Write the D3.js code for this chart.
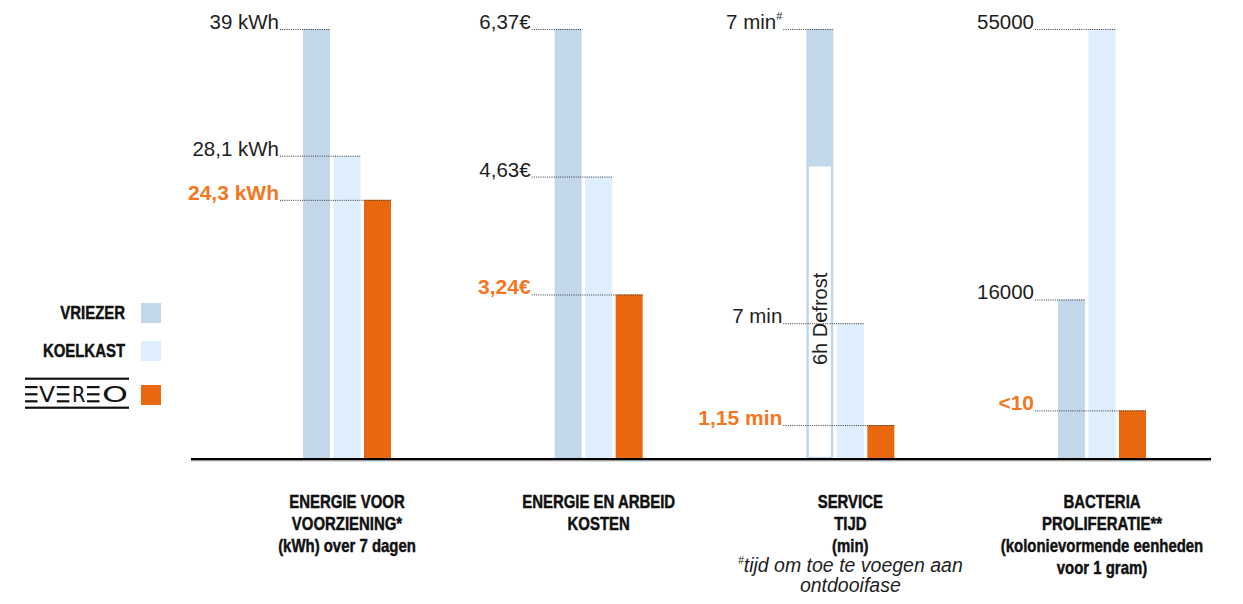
<!DOCTYPE html>
<html>
<head>
<meta charset="utf-8">
<script src="https://cdn.jsdelivr.net/npm/d3@7"></script>
<style>
  body { margin: 0; background: #fff; }
  svg { display: block; }
</style>
</head>
<body>
<svg id="chart" width="1243" height="604"></svg>
<script>
// ---- data ---------------------------------------------------------------
const groups = ["energie", "kosten", "service", "bacteria"];
const seriesNames = ["VRIEZER", "KOELKAST", "EVEREO"];

const vriezerValues  = [39,   6.37, 7,    16000];
const koelkastValues = [28.1, 4.63, 7,    55000];
const evereoValues   = [24.3, 3.24, 1.15, 10];

const vriezerLabels  = ["39 kWh",   "6,37€", "7 min",    "16000"];
const koelkastLabels = ["28,1 kWh", "4,63€", "7 min",    "55000"];
const evereoLabels   = ["24,3 kWh", "3,24€", "1,15 min", "<10"];

// each comparison has its own value axis
const axisMin = [2,  1.3,  -0.8, -7000];
const axisMax = [39, 6.37, 23.9, 55000];

const categoryLines = [
  ["ENERGIE VOOR", "VOORZIENING*", "(kWh) over 7 dagen"],
  ["ENERGIE EN ARBEID", "KOSTEN"],
  ["SERVICE", "TIJD", "(min)"],
  ["BACTERIA", "PROLIFERATIE**", "(kolonievormende eenheden", "voor 1 gram)"]
];
const footnoteLines = ["tijd om toe te voegen aan", "ontdooifase"];
const defrostGroup = "service";
const defrostText = "6h Defrost";

// ---- styling ------------------------------------------------------------
const barColors = ["#c3d7ea", "#dfeefc", "#e9680f"];
const accentText = "#f4761f";
const regular = "'Liberation Sans', Arial, sans-serif";
const narrowScale = 0.83;   // horizontal squeeze for the condensed captions

const baseY = 459, topY = 29;
const seriesValues = [vriezerValues, koelkastValues, evereoValues];
const seriesLabels = [vriezerLabels, koelkastLabels, evereoLabels];

const svg = d3.select("#chart");

const xCenter = d3.scalePoint().domain(groups).range([347, 1102]);
const xInner = d3.scaleBand().domain(seriesNames).range([-44, 44]).paddingInner(0.115);
const yScales = groups.map((g, i) =>
  d3.scaleLinear().domain([axisMin[i], axisMax[i]]).range([baseY, topY]));

// condensed bold caption text
function narrowText(parent, x, anchor) {
  return parent.append("g")
    .attr("transform", `translate(${x},0) scale(${narrowScale},1)`)
    .append("text")
    .attr("text-anchor", anchor)
    .attr("font-family", regular).attr("font-weight", "bold")
    .attr("font-size", 18).attr("fill", "#111")
    .attr("stroke", "#111").attr("stroke-width", 0.45);
}

// one record per bar
const bars = [];
groups.forEach((g, i) => {
  seriesNames.forEach((s, j) => {
    const y = yScales[i];
    const value = seriesValues[j][i];
    const x = xCenter(g) + xInner(s);
    const rec = { g, i, s, j, value, label: seriesLabels[j][i], x, w: xInner.bandwidth() };
    if (g === defrostGroup && j === 0) {
      // service time sits on top of the defrost period
      rec.top = y(axisMax[i]);
      rec.serviceH = baseY - y(value);
      rec.defrost = true;
    } else {
      rec.top = y(value);
    }
    bars.push(rec);
  });
});

const barLayer = svg.append("g");
bars.forEach(d => {
  if (d.defrost) {
    barLayer.append("rect")
      .attr("x", d.x).attr("y", d.top)
      .attr("width", d.w).attr("height", d.serviceH)
      .attr("fill", barColors[0]);
    const dTop = d.top + d.serviceH;
    barLayer.append("rect")
      .attr("x", d.x + 1.25).attr("y", dTop + 0.5)
      .attr("width", d.w - 2.5).attr("height", baseY - dTop - 1.5)
      .attr("fill", "#fff")
      .attr("stroke", barColors[0]).attr("stroke-width", 2.5);
    const cx = d.x + d.w / 2, cy = (dTop + baseY) / 2 + 7;
    barLayer.append("text")
      .attr("transform", `translate(${cx + 7},${cy}) rotate(-90)`)
      .attr("text-anchor", "middle")
      .attr("font-family", regular).attr("font-size", 20)
      .attr("fill", "#1e1e1e")
      .text(defrostText);
  } else {
    barLayer.append("rect")
      .attr("x", d.x).attr("y", d.top)
      .attr("width", d.w).attr("height", baseY - d.top)
      .attr("fill", barColors[d.j]);
  }
});

// leader lines and value labels
const labelLayer = svg.append("g");
bars.forEach(d => {
  const labelX = xCenter(d.g) - 44 - 24;
  labelLayer.append("line")
    .attr("x1", labelX + 1).attr("x2", d.x + d.w)
    .attr("y1", d.top + 0.5).attr("y2", d.top + 0.5)
    .attr("stroke", "#3a3a3a").attr("stroke-width", 1)
    .attr("stroke-dasharray", "1,1.2");
  const isAccent = d.j === 2;
  const t = labelLayer.append("text")
    .attr("x", labelX).attr("y", d.top)
    .attr("text-anchor", "end")
    .attr("font-family", regular)
    .attr("font-size", isAccent ? 21 : 20.5)
    .attr("font-weight", isAccent ? "bold" : "normal")
    .attr("fill", isAccent ? accentText : "#1e1e1e");
  t.append("tspan").text(d.label);
  if (d.defrost) {
    t.append("tspan").attr("font-size", 11).attr("dy", -9).text("#");
  }
});

// baseline
svg.append("line")
  .attr("x1", 191).attr("x2", 1211).attr("y1", 459.2).attr("y2", 459.2)
  .attr("stroke", "#000").attr("stroke-width", 2.4);
svg.append("line")
  .attr("x1", 191).attr("x2", 1211).attr("y1", 461).attr("y2", 461)
  .attr("stroke", "#bbb").attr("stroke-width", 1);

// category captions
const capLayer = svg.append("g");
groups.forEach((g, i) => {
  const cx = xCenter(g);
  const t = narrowText(capLayer, cx, "middle");
  categoryLines[i].forEach((line, k) => {
    t.append("tspan").attr("x", 0).attr("y", 508.5 + k * 21.7).text(line);
  });
  if (g === defrostGroup) {
    const f = capLayer.append("text")
      .attr("text-anchor", "middle")
      .attr("font-family", regular).attr("font-style", "italic")
      .attr("font-size", 19.5).attr("fill", "#1e1e1e");
    const first = f.append("tspan").attr("x", cx).attr("y", 572);
    first.append("tspan").attr("font-size", 10.5).attr("dy", -8).text("#");
    first.append("tspan").attr("dy", 8).text(footnoteLines[0]);
    f.append("tspan").attr("x", cx).attr("y", 592).text(footnoteLines[1]);
  }
});

// legend
const legend = svg.append("g");
const legendSwatchY = [303, 341, 385];
seriesNames.forEach((s, j) => {
  legend.append("rect")
    .attr("x", 141).attr("y", legendSwatchY[j])
    .attr("width", 20).attr("height", 20)
    .attr("fill", barColors[j]);
  if (j < 2) {
    narrowText(legend, 125, "end")
      .attr("x", 0).attr("y", legendSwatchY[j] + 16)
      .text(s);
  }
});

// EVEREO wordmark
const logo = legend.append("g").attr("fill", "#111");
logo.append("rect").attr("x", 25).attr("y", 377.6).attr("width", 104).attr("height", 2.2);
logo.append("rect").attr("x", 25).attr("y", 406.6).attr("width", 104).attr("height", 2.2);
[25, 56.8, 87].forEach(ex => {
  [386, 393.2, 400.2].forEach(by => {
    logo.append("rect").attr("x", ex).attr("y", by).attr("width", 12.5).attr("height", 2.2);
  });
});
const logoLetters = [["V", 39, 16], ["R", 72, 13.5], ["O", 102, 26]];
logoLetters.forEach(([ch, lx, lw]) => {
  logo.append("text")
    .attr("x", lx).attr("y", 402.3)
    .attr("font-family", "'DejaVu Sans', sans-serif")
    .attr("font-size", 22)
    .attr("textLength", lw).attr("lengthAdjust", "spacingAndGlyphs")
    .text(ch);
});
</script>
</body>
</html>
